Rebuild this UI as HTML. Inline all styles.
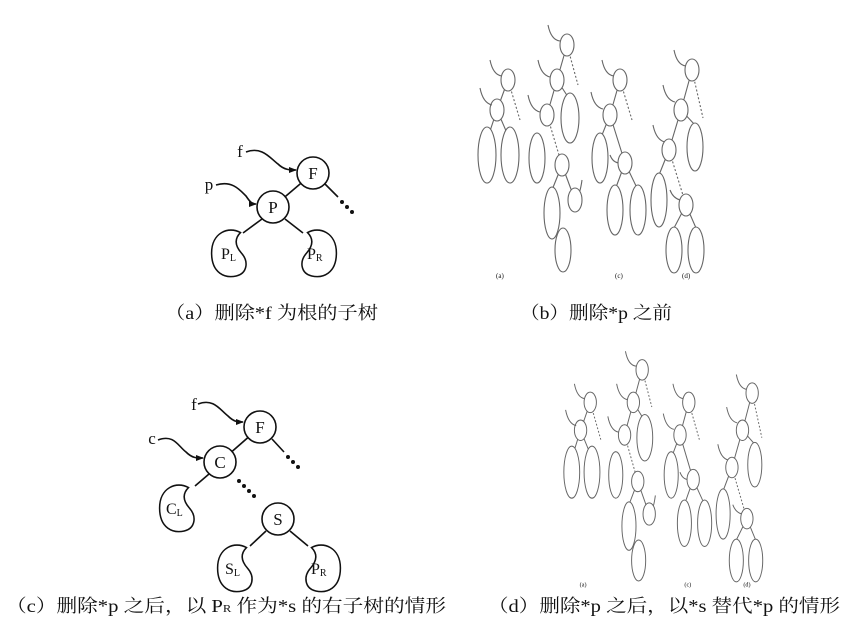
<!DOCTYPE html>
<html><head><meta charset="utf-8"><style>
html,body{margin:0;padding:0;background:#fff;}
svg{display:block}
text{font-family:"Liberation Serif","Noto Serif CJK SC",serif;fill:#111}
</style></head><body>
<svg width="859" height="637" viewBox="0 0 859 637">
<defs>
  <marker id="ar" markerWidth="8" markerHeight="8" refX="7" refY="4" orient="auto" markerUnits="userSpaceOnUse">
    <path d="M0,1 L8,4 L0,7 Z" fill="#111"/>
  </marker>
  <path id="blobL" d="M10,-24 C-4,-32 -24,-24 -24,0 C-24,24 -8,30 5,27 C18,24 20,10 11,0 C4,-8 2,-16 10,-24 Z" fill="#fff" stroke="#111" stroke-width="1.8"/>
  <path id="blobR" d="M-10,-24 C4,-32 24,-24 24,0 C24,24 8,30 -5,27 C-18,24 -20,10 -11,0 C-4,-8 -2,-16 -10,-24 Z" fill="#fff" stroke="#111" stroke-width="1.8"/>
  <g id="mini" stroke="#666" stroke-width="1.1" fill="#fff">
    <line x1="48" y1="80" x2="37" y2="110"/><line x1="48" y1="80" x2="60" y2="120" stroke-dasharray="2,2"/>
    <line x1="37" y1="110" x2="27" y2="140"/><line x1="37" y1="110" x2="50" y2="140"/>
    <ellipse cx="48" cy="80" rx="7" ry="11"/><ellipse cx="37" cy="110" rx="7" ry="11"/>
    <ellipse cx="27" cy="155" rx="9" ry="28"/><ellipse cx="50" cy="155" rx="9" ry="28"/>
    <path d="M30,60 q3,15 12,16 M20,88 q3,15 12,17" fill="none"/>
    <line x1="107" y1="45" x2="97" y2="80"/><line x1="107" y1="45" x2="118" y2="85" stroke-dasharray="2,2"/>
    <line x1="97" y1="80" x2="87" y2="115"/><line x1="97" y1="80" x2="110" y2="100"/>
    <line x1="87" y1="115" x2="102" y2="165" stroke-dasharray="2,2"/>
    <line x1="102" y1="165" x2="92" y2="190"/><line x1="102" y1="165" x2="115" y2="200"/>
    <path d="M88,25 q3,15 12,16 M78,60 q3,15 12,17 M68,95 q3,15 12,17 M122,180 q-2,15 -6,18" fill="none"/>
    <ellipse cx="107" cy="45" rx="7" ry="11"/><ellipse cx="97" cy="80" rx="7" ry="11"/>
    <ellipse cx="87" cy="115" rx="7" ry="11"/><ellipse cx="110" cy="118" rx="9" ry="25"/>
    <ellipse cx="77" cy="158" rx="8" ry="25"/><ellipse cx="102" cy="165" rx="7" ry="11"/>
    <ellipse cx="92" cy="213" rx="8" ry="26"/><ellipse cx="115" cy="200" rx="7" ry="12"/>
    <ellipse cx="103" cy="250" rx="8" ry="22"/>
    <line x1="160" y1="80" x2="150" y2="115"/><line x1="160" y1="80" x2="172" y2="120" stroke-dasharray="2,2"/>
    <line x1="150" y1="115" x2="140" y2="140"/><line x1="150" y1="115" x2="165" y2="163"/>
    <line x1="165" y1="163" x2="155" y2="190"/><line x1="165" y1="163" x2="178" y2="190"/>
    <path d="M142,60 q3,15 12,16 M131,92 q3,15 12,17 M150,155 q3,8 10,8" fill="none"/>
    <ellipse cx="160" cy="80" rx="7" ry="11"/><ellipse cx="150" cy="115" rx="7" ry="11"/>
    <ellipse cx="140" cy="158" rx="8" ry="25"/><ellipse cx="165" cy="163" rx="7" ry="11"/>
    <ellipse cx="155" cy="210" rx="8" ry="25"/><ellipse cx="178" cy="210" rx="8" ry="25"/>
    <line x1="232" y1="70" x2="221" y2="110"/><line x1="232" y1="70" x2="243" y2="118" stroke-dasharray="2,2"/>
    <line x1="221" y1="110" x2="209" y2="150"/><line x1="221" y1="110" x2="235" y2="125"/>
    <line x1="209" y1="150" x2="199" y2="175"/><line x1="209" y1="150" x2="226" y2="205" stroke-dasharray="2,2"/>
    <line x1="226" y1="205" x2="214" y2="228"/><line x1="226" y1="205" x2="236" y2="228"/>
    <path d="M214,50 q3,15 12,16 M203,85 q3,15 12,17 M193,125 q3,15 12,17 M210,190 q3,8 10,10" fill="none"/>
    <ellipse cx="232" cy="70" rx="7" ry="11"/><ellipse cx="221" cy="110" rx="7" ry="11"/>
    <ellipse cx="235" cy="147" rx="8" ry="24"/><ellipse cx="209" cy="150" rx="7" ry="11"/>
    <ellipse cx="199" cy="200" rx="8" ry="27"/><ellipse cx="226" cy="205" rx="7" ry="11"/>
    <ellipse cx="214" cy="250" rx="8" ry="23"/><ellipse cx="236" cy="250" rx="8" ry="23"/>
    <text x="36" y="278" font-size="7" fill="#666" stroke="none">(a)</text>
    <text x="155" y="278" font-size="7" fill="#666" stroke="none">(c)</text>
    <text x="222" y="278" font-size="7" fill="#666" stroke="none">(d)</text>
  </g>
</defs>

<g stroke="#111" stroke-width="1.6" fill="none">
  <line x1="313" y1="173" x2="273" y2="207"/>
  <line x1="325" y1="184" x2="338" y2="197"/>
  <line x1="262" y1="219" x2="243" y2="233"/>
  <line x1="285" y1="219" x2="303" y2="233"/>
  <use href="#blobL" transform="translate(232,253) scale(0.85)"/>
  <use href="#blobR" transform="translate(316,253) scale(0.85)"/>
  <circle cx="313" cy="173" r="16" fill="#fff"/>
  <circle cx="273" cy="207" r="16" fill="#fff"/>
  <path d="M246,152 C262,146 270,158 278,164 C284,170 290,170 296,170" marker-end="url(#ar)"/>
  <path d="M216,185 C232,180 240,190 246,196 C250,202 252,204 256,204" marker-end="url(#ar)"/>
</g>
<g fill="#111"><circle cx="342" cy="202" r="2"/><circle cx="347" cy="207" r="2"/><circle cx="352" cy="212" r="2"/></g>
<text x="313" y="179" font-size="17" text-anchor="middle">F</text>
<text x="273" y="213" font-size="17" text-anchor="middle">P</text>
<text x="240" y="157" font-size="17" text-anchor="middle">f</text>
<text x="209" y="190" font-size="17" text-anchor="middle">p</text>
<text x="221" y="259" font-size="16">P<tspan font-size="10" dy="2">L</tspan></text>
<text x="307" y="259" font-size="16">P<tspan font-size="10" dy="2">R</tspan></text>

<g><use href="#mini" x="460" y="0"/></g>

<g stroke="#111" stroke-width="1.6" fill="none">
  <line x1="260" y1="427" x2="220" y2="462"/>
  <line x1="272" y1="439" x2="284" y2="452"/>
  <line x1="209" y1="474" x2="195" y2="486"/>
  <line x1="290" y1="531" x2="308" y2="546"/>
  <line x1="266" y1="531" x2="250" y2="546"/>
  <use href="#blobL" transform="translate(180,508) scale(0.85)"/>
  <use href="#blobL" transform="translate(238,568) scale(0.85)"/>
  <use href="#blobR" transform="translate(320,568) scale(0.85)"/>
  <circle cx="260" cy="427" r="16" fill="#fff"/>
  <circle cx="220" cy="462" r="16" fill="#fff"/>
  <circle cx="278" cy="519" r="16" fill="#fff"/>
  <path d="M198,404 C214,398 220,410 228,416 C234,422 238,422 243,422" marker-end="url(#ar)"/>
  <path d="M158,440 C174,434 178,446 186,452 C192,458 196,458 203,458" marker-end="url(#ar)"/>
</g>
<g fill="#111"><circle cx="288" cy="457" r="2"/><circle cx="293" cy="462" r="2"/><circle cx="298" cy="467" r="2"/>
<circle cx="239" cy="481" r="2"/><circle cx="244" cy="486" r="2"/><circle cx="249" cy="491" r="2"/><circle cx="254" cy="496" r="2"/></g>
<text x="260" y="433" font-size="17" text-anchor="middle">F</text>
<text x="220" y="468" font-size="17" text-anchor="middle">C</text>
<text x="278" y="525" font-size="17" text-anchor="middle">S</text>
<text x="194" y="410" font-size="17" text-anchor="middle">f</text>
<text x="152" y="444" font-size="17" text-anchor="middle">c</text>
<text x="166" y="514" font-size="16">C<tspan font-size="10" dy="2">L</tspan></text>
<text x="225" y="574" font-size="16">S<tspan font-size="10" dy="2">L</tspan></text>
<text x="311" y="574" font-size="16">P<tspan font-size="10" dy="2">R</tspan></text>

<g transform="translate(548,328) scale(0.88,0.93)"><use href="#mini"/></g>

<text x="165" y="319" font-size="18" textLength="213" lengthAdjust="spacingAndGlyphs">（a）删除*f 为根的子树</text>
<text x="520" y="319" font-size="18" textLength="152" lengthAdjust="spacingAndGlyphs">（b）删除*p 之前</text>
<text x="6" y="612" font-size="18" textLength="440" lengthAdjust="spacingAndGlyphs">（c）删除*p 之后，以 P<tspan font-size="11">R</tspan> 作为*s 的右子树的情形</text>
<text x="488" y="612" font-size="18" textLength="352" lengthAdjust="spacingAndGlyphs">（d）删除*p 之后，以*s 替代*p 的情形</text>
</svg>
</body></html>
